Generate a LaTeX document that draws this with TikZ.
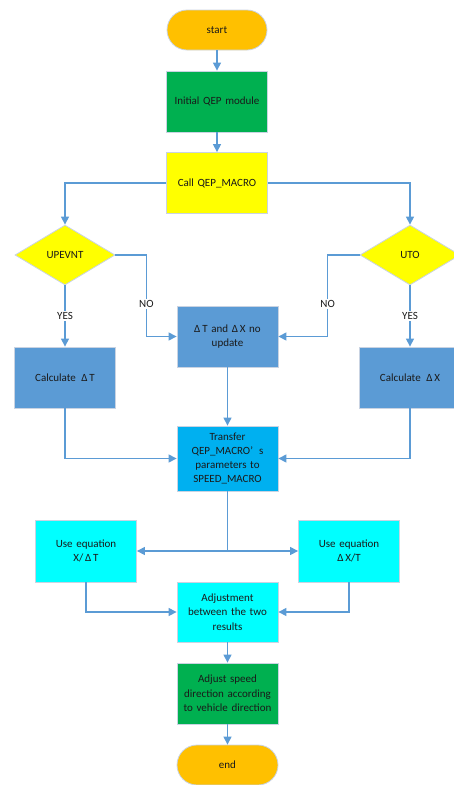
\documentclass[tikz,border=0pt]{standalone}
\usepackage{fontspec}
\setmainfont{Carlito}
\usetikzlibrary{shapes.geometric,arrows.meta}
\definecolor{lineblue}{HTML}{5B9BD5}
\definecolor{boxblue}{HTML}{5B9BD5}
\definecolor{transblue}{HTML}{00B0F0}
\definecolor{termorange}{HTML}{FFC000}
\definecolor{procgreen}{HTML}{00B050}
\definecolor{decyellow}{HTML}{FFFF00}
\definecolor{eqcyan}{HTML}{00FFFF}
\definecolor{edge}{HTML}{C9D3E2}
\definecolor{txt}{HTML}{1A1A1A}
\tikzset{
  base/.style={draw=edge, line width=0.8pt, text=txt, font=\fontsize{11}{14.3}\selectfont, align=center, inner sep=1pt},
  term/.style={base, rectangle, rounded corners=20pt, fill=termorange, minimum width=100pt, minimum height=40pt},
  proc/.style={base, rectangle, minimum width=101pt, minimum height=61pt, text width=97pt},
  dec/.style={base, diamond, fill=decyellow, minimum width=100pt, minimum height=60pt, aspect=1.667},
  arr/.style={draw=lineblue, line width=1.2pt, -{Triangle[length=8pt,width=8pt]}},
  ln/.style={draw=lineblue, line width=1.2pt},
  lab/.style={fill=white, text=txt, font=\fontsize{11}{14}\selectfont, inner sep=1.5pt}
}
\begin{document}
\begin{tikzpicture}[x=1pt,y=-1pt]
\useasboundingbox (0,0) rectangle (454,785);
\clip (0,0) rectangle (454,785);
\node[term] (start) at (217,30) {start};
\node[proc, fill=procgreen] (init) at (217,101.5) {Initial QEP module};
\node[proc, fill=decyellow] (call) at (217,183) {Call QEP\_MACRO};
\node[dec] (up) at (65,255) {UPEVNT};
\node[dec] (uto) at (410,255) {UTO};
\node[proc, fill=boxblue] (noupd) at (227.5,336.5) {Δ\,T and Δ\,X no\\update};
\node[proc, fill=boxblue] (calcT) at (65,377.5) {Calculate\ \,Δ\,T};
\node[proc, fill=boxblue] (calcX) at (410,377.5) {Calculate\ \,Δ\,X};
\node[proc, fill=transblue, minimum height=65pt] (trans) at (227.5,458.5) {Transfer\\QEP\_MACRO’\hspace{6pt}s\\parameters to\\SPEED\_MACRO};
\node[proc, fill=eqcyan, minimum height=62pt] (eq1) at (86,551) {Use equation\\X/\,Δ\,T};
\node[proc, fill=eqcyan, minimum height=62pt] (eq2) at (349,551) {Use equation\\Δ\,X/T};
\node[proc, fill=eqcyan, minimum height=60pt] (adj) at (227.5,612) {Adjustment\\between the two\\results};
\node[proc, fill=procgreen] (speed) at (227.5,693.5) {Adjust speed\\direction according\\to vehicle direction};
\node[term, minimum width=101pt] (end) at (227.5,765) {end};

\draw[arr] (start) -- (init);
\draw[arr] (init) -- (call);
\draw[arr] (call.west) -| (up.north);
\draw[arr] (call.east) -| (uto.north);
\draw[arr] (up.south) -- node[lab]{YES} (calcT.north);
\draw[arr] (uto.south) -- node[lab]{YES} (calcX.north);
\draw[arr] (up.east) -- ++(31,0) |- node[lab, pos=0.3]{NO} (noupd.west);
\draw[arr] (uto.west) -- ++(-32,0) |- node[lab, pos=0.3]{NO} (noupd.east);
\draw[arr] (noupd) -- (trans);
\draw[arr] (calcT.south) |- (trans.west);
\draw[arr] (calcX.south) |- (trans.east);
\coordinate (split) at (trans.south |- eq1.east);
\draw[ln] (trans.south) -- (split);
\draw[arr] (split) -- (eq1.east);
\draw[arr] (split) -- (eq2.west);
\draw[arr] (eq1.south) |- (adj.west);
\draw[arr] (eq2.south) |- (adj.east);
\draw[arr] (adj) -- (speed);
\draw[arr] (speed) -- (end);
\end{tikzpicture}
\end{document}
